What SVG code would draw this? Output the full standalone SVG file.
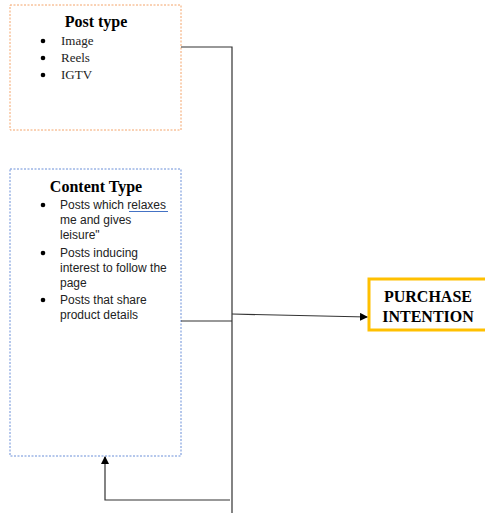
<svg xmlns="http://www.w3.org/2000/svg" width="485" height="513" viewBox="0 0 485 513">
<defs>
<style>
.title{font-family:"Liberation Serif",serif;font-weight:bold;font-size:16px;fill:#000;text-anchor:middle}
.serif{font-family:"Liberation Serif",serif;font-size:13px;fill:#222}
.sans{font-family:"Liberation Sans",sans-serif;font-size:12px;fill:#222}
.pi{font-family:"Liberation Serif",serif;font-weight:bold;font-size:16px;fill:#000;text-anchor:middle}
.conn{stroke:#333;stroke-width:1.2;fill:none}
.dot{fill:#000}
</style>
<marker id="ah" markerWidth="8" markerHeight="8" refX="7" refY="4" orient="auto" markerUnits="userSpaceOnUse">
<path d="M0,0 L8,4 L0,8 Z" fill="#000"/>
</marker>
</defs>
<rect width="485" height="513" fill="#fff"/>
<g id="post-type">
<rect x="10" y="5" width="171" height="125" fill="none" stroke="#F4A46A" stroke-width="1" stroke-dasharray="2,1.5"/>
<text class="title" x="96" y="27">Post type</text>
<circle class="dot" cx="43" cy="41" r="2.3"/><text class="serif" x="61" y="45">Image</text>
<circle class="dot" cx="43" cy="58" r="2.3"/><text class="serif" x="61" y="62">Reels</text>
<circle class="dot" cx="43" cy="75" r="2.3"/><text class="serif" x="61" y="79">IGTV</text>
</g>
<g id="content-type">
<rect x="10" y="169" width="171" height="287" fill="none" stroke="#6A8FD8" stroke-width="1" stroke-dasharray="2,1.5"/>
<text class="title" x="96" y="192">Content Type</text>
<circle class="dot" cx="43" cy="205" r="2.3"/>
<text class="sans" x="60" y="209">Posts which relaxes</text>
<line x1="129" y1="211.5" x2="168" y2="211.5" stroke="#4472C4" stroke-width="1"/>
<text class="sans" x="60" y="224">me and gives</text>
<text class="sans" x="60" y="239">leisure"</text>
<circle class="dot" cx="43" cy="253" r="2.3"/>
<text class="sans" x="60" y="257">Posts inducing</text>
<text class="sans" x="60" y="272">interest to follow the</text>
<text class="sans" x="60" y="287">page</text>
<circle class="dot" cx="43" cy="300" r="2.3"/>
<text class="sans" x="60" y="304">Posts that share</text>
<text class="sans" x="60" y="319">product details</text>
</g>
<g id="purchase-intention">
<rect x="369" y="279" width="118" height="51" fill="#fff" stroke="#FFC000" stroke-width="3"/>
<text class="pi" x="428" y="302">PURCHASE</text>
<text class="pi" x="428" y="322">INTENTION</text>
</g>
<g id="connectors">
<polyline class="conn" points="181,47 232,47 232,513"/>
<line class="conn" x1="181" y1="321" x2="232" y2="321"/>
<line class="conn" x1="232" y1="314" x2="367" y2="317" marker-end="url(#ah)"/>
<polyline class="conn" points="230,500 105,500 105,457" marker-end="url(#ah)"/>
</g>
</svg>
